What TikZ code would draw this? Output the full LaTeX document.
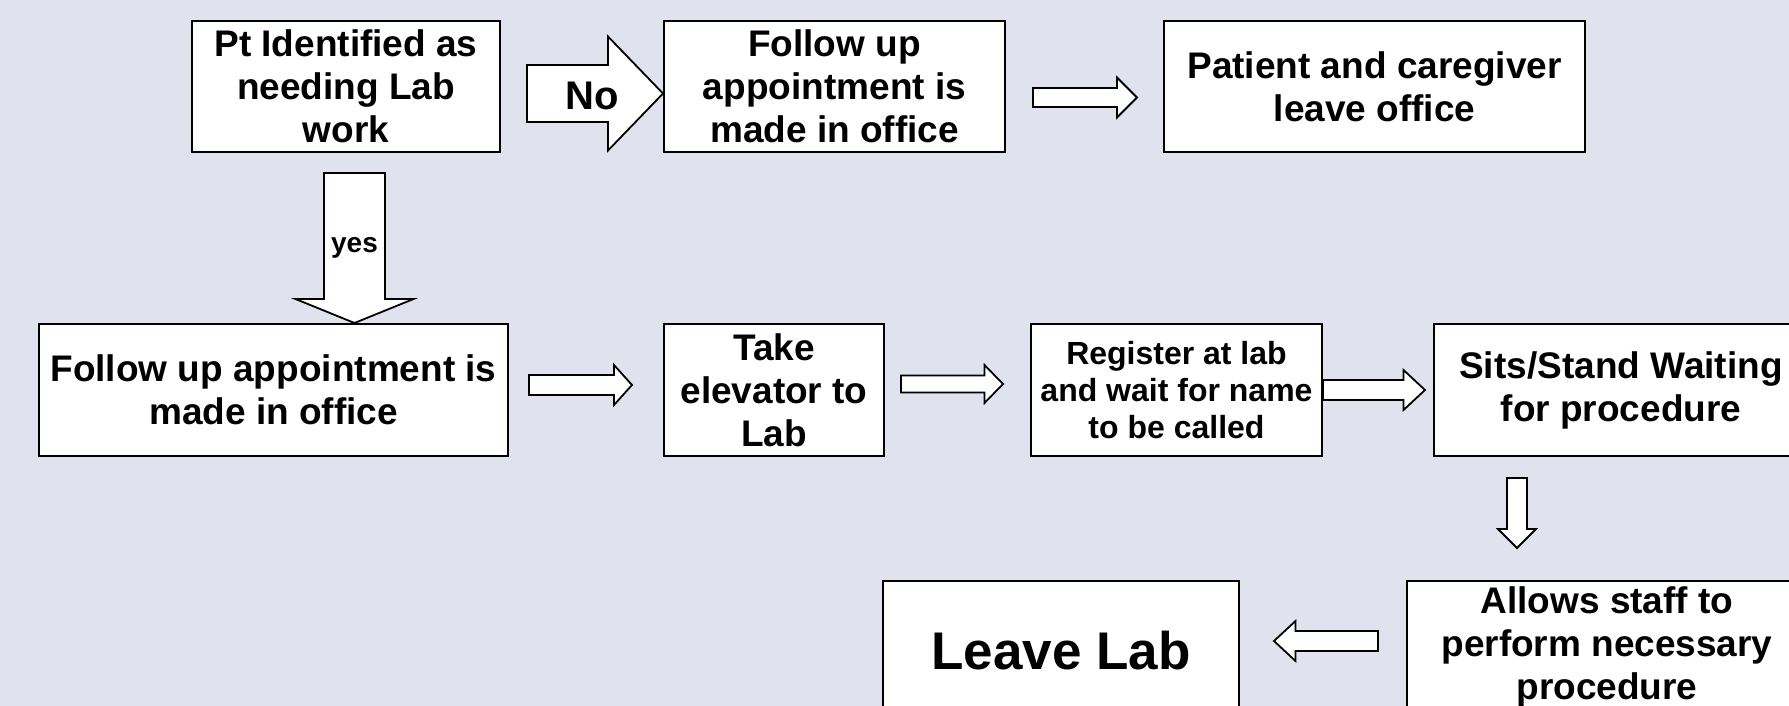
\documentclass[tikz,border=0pt]{standalone}
\usepackage{fontspec}
\setmainfont{Liberation Sans}
\usetikzlibrary{calc}
\definecolor{slidebg}{RGB}{224,227,238}
\tikzset{
  blockarrow/.style n args={3}{
    to path={
      ($(\tikztostart)!#1!90:(\tikztotarget)$)
      -- ($(\tikztotarget)!#3!(\tikztostart)!#1!-90:(\tikztostart)$)
      -- ($(\tikztotarget)!#3!(\tikztostart)!#2!-90:(\tikztostart)$)
      -- (\tikztotarget)
      -- ($(\tikztotarget)!#3!(\tikztostart)!#2!90:(\tikztostart)$)
      -- ($(\tikztotarget)!#3!(\tikztostart)!#1!90:(\tikztostart)$)
      -- ($(\tikztostart)!#1!-90:(\tikztotarget)$)
      -- cycle
    }
  }
}
\begin{document}
\begin{tikzpicture}
        [x=1pt,y=-1pt,
         box/.style={draw,line width=2pt,fill=white,align=center,inner sep=0pt,
           font=\fontsize{37}{43}\selectfont\bfseries},
         fat/.style={draw,fill=white,line width=1.8pt,line join=miter}]
        \useasboundingbox (0,0) rectangle (1789,706);
        \clip (0,0) rectangle (1789,706);
        \fill [slidebg] (0,0) rectangle (1789,706);
        \node (identified) [box,minimum width=308,minimum height=131]
          at (346,86.5) {Pt Identified as\\needing Lab\\work};
        \node (followup) [box,minimum width=341,minimum height=131]
          at (834.5,86.5) {Follow up\\appointment is\\made in office};
        \node (leaveoffice) [box,minimum width=421,minimum height=131]
          at (1374.5,86.5) {Patient and caregiver\\leave office};
        \node (followup2) [box,minimum width=469,minimum height=132]
          at (273.5,390) {Follow up appointment is\\made in office};
        \node (elevator) [box,minimum width=220,minimum height=132]
          at (774,390) {Take\\elevator to\\Lab};
        \node (register) [box,minimum width=291,minimum height=132,
            font=\fontsize{32}{37}\selectfont\bfseries]
          at (1176.5,390) {Register at lab\\and wait for name\\to be called};
        \node (waiting) [box,minimum width=374,minimum height=132]
          at (1621,390) {Sits/Stand Waiting\\for procedure};
        \node (procedure) [box,minimum width=400,minimum height=132]
          at (1607,647) {Allows staff to\\perform necessary\\procedure};
        \node (leavelab) [box,minimum width=356,minimum height=140,
            font=\fontsize{53}{60}\selectfont\bfseries]
          at (1061,651) {Leave Lab};
        \coordinate (a1s) at ($(identified.east)+(26,7)$);
        \coordinate (a1e) at ($(followup.west)+(0,7)$);
        \coordinate (a2s) at ($(followup.east)+(27,11)$);
        \coordinate (a2e) at ($(leaveoffice.west)+(-26,11)$);
        \coordinate (a3s) at ($(identified.south)+(8.5,20)$);
        \coordinate (a3e) at (a3s |- followup2.north);
        \coordinate (a4s) at ($(followup2.east)+(20,-5)$);
        \coordinate (a4e) at ($(elevator.west)+(-31,-5)$);
        \coordinate (a5s) at ($(elevator.east)+(16,-6)$);
        \coordinate (a5e) at ($(register.west)+(-27,-6)$);
        \coordinate (a6s) at (register.east);
        \coordinate (a6e) at ($(waiting.west)+(-8,0)$);
        \coordinate (a7s) at ($(waiting.south)+(-104,21)$);
        \coordinate (a7e) at ($(a7s |- procedure.north)+(0,-32)$);
        \coordinate (a8s) at ($(procedure.west)+(-28,-6)$);
        \coordinate (a8e) at ($(leavelab.east |- a8s)+(34,0)$);
        \draw [fat,blockarrow={28.5pt}{57pt}{55pt}] (a1s) to (a1e);
        \draw [fat,blockarrow={9.5pt}{20pt}{20pt}] (a2s) to (a2e);
        \draw [fat,blockarrow={30.5pt}{59pt}{24pt}] (a3s) to (a3e);
        \draw [fat,blockarrow={10pt}{20pt}{18pt}] (a4s) to (a4e);
        \draw [fat,blockarrow={8.5pt}{19pt}{18.5pt}] (a5s) to (a5e);
        \draw [fat,blockarrow={10pt}{20pt}{21.5pt}] (a6s) to (a6e);
        \draw [fat,blockarrow={10pt}{19pt}{19pt}] (a7s) to (a7e);
        \draw [fat,blockarrow={10pt}{20pt}{21.5pt}] (a8s) to (a8e);
        \node (nolabel) [font=\fontsize{40}{46}\selectfont\bfseries]
          at ($(a1s)!0.48!(a1e)+(0,2)$) {No};
        \node (yeslabel) [font=\fontsize{28}{32}\selectfont\bfseries]
          at ($(a3s)!0.5!(a3e)$) {yes};
\end{tikzpicture}
\end{document}
